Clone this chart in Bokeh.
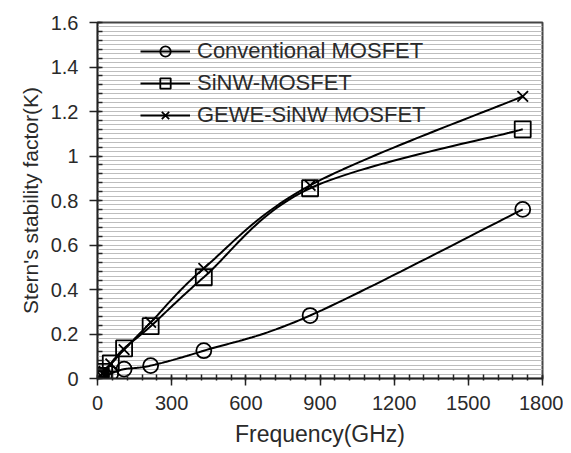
import numpy as np
from bokeh.plotting import figure
from bokeh.models import (SingleIntervalTicker, FixedTicker, Range1d, Legend, LegendItem,
                          CustomJSTickFormatter)
from bokeh.embed import file_html
from bokeh.resources import INLINE

# ---- data ----
freq = [1.68, 3.36, 6.72, 13.44, 26.9, 53.75, 107.5, 215, 430, 860, 1720]
k_conv = [0.0, 0.0, 0.001, 0.004, 0.01, 0.022, 0.042, 0.058, 0.125, 0.283, 0.76]
k_sinw = [0.0, 0.002, 0.005, 0.012, 0.03, 0.068, 0.135, 0.235, 0.455, 0.855, 1.12]
k_gewe = [0.0, 0.002, 0.005, 0.013, 0.032, 0.065, 0.13, 0.252, 0.495, 0.868, 1.268]
series_names = ["Conventional MOSFET", "SiNW-MOSFET", "GEWE-SiNW MOSFET"]

FONT = "Liberation Sans"


def smooth(xs, ys, n=30):
    """Excel-style smoothed line (Catmull-Rom Bezier) through the data points."""
    xs = np.asarray(xs, float)
    ys = np.asarray(ys, float)
    px, py = [], []
    m = len(xs)
    for i in range(m - 1):
        x0, y0 = (xs[i - 1], ys[i - 1]) if i > 0 else (xs[i], ys[i])
        x1, y1 = xs[i], ys[i]
        x2, y2 = xs[i + 1], ys[i + 1]
        x3, y3 = (xs[i + 2], ys[i + 2]) if i + 2 < m else (x2, y2)
        c1x, c1y = x1 + (x2 - x0) / 6, y1 + (y2 - y0) / 6
        c2x, c2y = x2 - (x3 - x1) / 6, y2 - (y3 - y1) / 6
        t = np.linspace(0, 1, n)
        bx = (1 - t) ** 3 * x1 + 3 * (1 - t) ** 2 * t * c1x + 3 * (1 - t) * t ** 2 * c2x + t ** 3 * x2
        by = (1 - t) ** 3 * y1 + 3 * (1 - t) ** 2 * t * c1y + 3 * (1 - t) * t ** 2 * c2y + t ** 3 * y2
        px.extend(bx)
        py.extend(by)
    return px, py


p = figure(width=563, height=453, output_backend="svg", toolbar_location=None,
           x_range=Range1d(0, 1800), y_range=Range1d(0, 1.6),
           min_border_left=97, min_border_right=21, min_border_top=22,
           min_border_bottom=75)
p.background_fill_color = "white"
p.border_fill_color = "white"
p.outline_line_color = "#444444"
p.outline_line_width = 2

# axes
p.xaxis.ticker = SingleIntervalTicker(interval=300, num_minor_ticks=5)
p.yaxis.ticker = SingleIntervalTicker(interval=0.2, num_minor_ticks=5)
p.yaxis.formatter = CustomJSTickFormatter(code="return tick.toFixed(1).replace(/\\.0$/, '');")
for ax in (p.xaxis[0], p.yaxis[0]):
    ax.axis_line_color = "#222222"
    ax.axis_line_width = 1.5
    ax.major_tick_line_color = "#222222"
    ax.minor_tick_line_color = "#222222"
    ax.major_tick_line_width = 1.5
    ax.minor_tick_line_width = 1.5
    ax.major_label_text_font = FONT
    ax.major_label_text_font_size = "20px"
    ax.major_label_text_color = "#2a2a2a"
    ax.axis_label_text_font = FONT
    ax.axis_label_text_font_style = "normal"
    ax.axis_label_text_color = "#2a2a2a"
p.xaxis.axis_label_text_font_size = "23px"
p.yaxis.axis_label_text_font_size = "21px"
p.xaxis.major_tick_in = 3
p.xaxis.major_tick_out = 7
p.xaxis.minor_tick_in = 4
p.xaxis.minor_tick_out = 2
p.xaxis.major_label_standoff = 10
p.xaxis.axis_label = "Frequency(GHz)"
p.xaxis.axis_label_standoff = 8
p.yaxis.major_tick_in = 3
p.yaxis.major_tick_out = 8
p.yaxis.minor_tick_in = 5
p.yaxis.minor_tick_out = 0
p.yaxis.major_label_standoff = 11
p.yaxis.axis_label = "Stern's stability factor(K)"
p.yaxis.axis_label_standoff = 6

# grid: dense horizontal lines every 0.02
p.xgrid.grid_line_color = None
p.ygrid.ticker = FixedTicker(ticks=[round(i * 0.02, 2) for i in range(81)])
p.ygrid.grid_line_color = "#bdbdbd"
p.ygrid.grid_line_width = 1

items = []
markers = ["circle", "square", "x"]
sizes = [15, 16, 15]
for name, ys, mk, sz in zip(series_names, [k_conv, k_sinw, k_gewe], markers, sizes):
    sx, sy = smooth(freq, ys)
    ln = p.line(sx, sy, line_color="black", line_width=2)
    sc = p.scatter(freq, ys, marker=mk, size=sz, line_color="black",
                   fill_color=None, line_width=1.8)
    items.append(LegendItem(label=name, renderers=[ln, sc]))

legend = Legend(items=items, location=(43, 250), orientation="vertical",
                glyph_width=50, glyph_height=26, label_height=26, spacing=6,
                label_standoff=7, padding=0, margin=0,
                label_text_font=FONT, label_text_font_size="22px",
                label_text_color="#2a2a2a",
                border_line_color=None, background_fill_alpha=0)
p.add_layout(legend)

open("out.html", "w").write(file_html(p, INLINE))
